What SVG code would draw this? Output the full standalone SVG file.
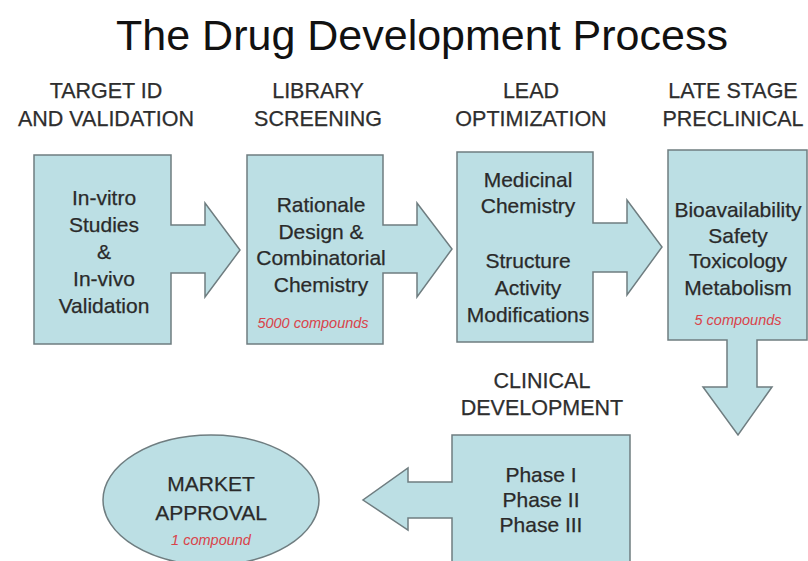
<svg xmlns="http://www.w3.org/2000/svg" width="808" height="561" viewBox="0 0 808 561">
<style>
.shape{fill:#bcdfe4;stroke:#6f7d80;stroke-width:1.5;stroke-linejoin:miter}
text{font-family:"Liberation Sans",Arial,sans-serif;text-anchor:middle}
.title{font-size:43px;fill:#111}
.hdr{font-size:21.5px;fill:#2e2e2e;stroke:#2e2e2e;stroke-width:0.25}
.body{font-size:21px;fill:#2a2a2a;stroke:#2a2a2a;stroke-width:0.25}
.note{font-size:14.5px;fill:#d9434a;font-style:italic}
</style>
<rect width="808" height="561" fill="#fff"/>
<text class="title" x="422" y="50">The Drug Development Process</text>
<g id="headers">
<text class="hdr" x="106" y="98">TARGET ID</text>
<text class="hdr" x="106" y="126">AND VALIDATION</text>
<text class="hdr" x="318" y="98">LIBRARY</text>
<text class="hdr" x="318" y="126">SCREENING</text>
<text class="hdr" x="531" y="98">LEAD</text>
<text class="hdr" x="531" y="126">OPTIMIZATION</text>
<text class="hdr" x="733" y="98">LATE STAGE</text>
<text class="hdr" x="733" y="126">PRECLINICAL</text>
<text class="hdr" x="542" y="388">CLINICAL</text>
<text class="hdr" x="542" y="415">DEVELOPMENT</text>
</g>
<g id="connectors"></g>
<g id="target">
<polygon class="shape" points="34,155 171,155 171,225 205,225 205,203 240,250 205,297 205,273 171,273 171,344 34,344"/>
<text class="body" x="104" y="205">In-vitro</text>
<text class="body" x="104" y="232">Studies</text>
<text class="body" x="104" y="259">&amp;</text>
<text class="body" x="104" y="286">In-vivo</text>
<text class="body" x="104" y="313">Validation</text>
</g>
<g id="library">
<polygon class="shape" points="247,155 383,155 383,225 417,225 417,203 452,249 417,297 417,273 383,273 383,344 247,344"/>
<text class="body" x="321" y="212">Rationale</text>
<text class="body" x="321" y="239">Design &amp;</text>
<text class="body" x="321" y="265">Combinatorial</text>
<text class="body" x="321" y="292">Chemistry</text>
<text class="note" x="313" y="328">5000 compounds</text>
</g>
<g id="lead">
<polygon class="shape" points="457,152 593,152 593,223 627,223 627,200 662,247 627,295 627,272 593,272 593,342 457,342"/>
<text class="body" x="528" y="187">Medicinal</text>
<text class="body" x="528" y="213">Chemistry</text>
<text class="body" x="528" y="268">Structure</text>
<text class="body" x="528" y="295">Activity</text>
<text class="body" x="528" y="322">Modifications</text>
</g>
<g id="preclinical">
<polygon class="shape" points="668,150 807,150 807,340 757,340 757,387 772,387 738,435 703,387 727,387 727,340 668,340"/>
<text class="body" x="738" y="217">Bioavailability</text>
<text class="body" x="738" y="243">Safety</text>
<text class="body" x="738" y="268">Toxicology</text>
<text class="body" x="738" y="295">Metabolism</text>
<text class="note" x="738" y="325">5 compounds</text>
</g>
<g id="clinical">
<polygon class="shape" points="452,435 630,435 630,565 452,565 452,518 408,518 408,530 363,500 408,468 408,482 452,482"/>
<text class="body" x="541" y="482">Phase I</text>
<text class="body" x="541" y="507">Phase II</text>
<text class="body" x="541" y="532">Phase III</text>
</g>
<g id="market">
<ellipse class="shape" cx="211" cy="500" rx="108" ry="65"/>
<text class="body" x="211" y="491">MARKET</text>
<text class="body" x="211" y="520">APPROVAL</text>
<text class="note" x="211" y="545">1 compound</text>
</g>
</svg>
